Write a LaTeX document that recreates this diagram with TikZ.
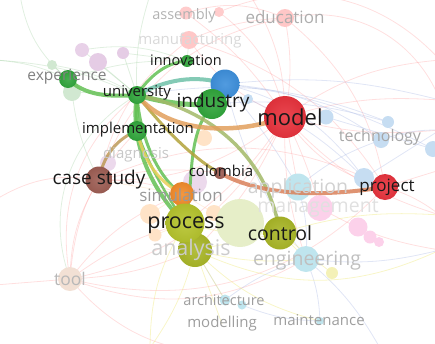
\documentclass[tikz,border=0pt]{standalone}
\usepackage{fontspec}
\setmainfont{Open Sans}
\begin{document}
\newcommand\lsz[1]{\fontsize{#1}{#1}\selectfont}
\begin{tikzpicture}[x=1pt,y=-1pt,
  dot/.style 2 args={circle,inner sep=0pt,minimum size=#2pt,fill=#1},
  sdot/.style 2 args={circle,inner sep=0pt,minimum size=#2pt,shading=radial,inner color=#1!90!white,outer color=#1!95!black},
  lbl/.style={inner sep=0pt,text=black!90},
  dim/.style={inner sep=0pt,text=black!32},
  pk/.style={draw=red!45,opacity=.28,line width=.8pt},
  bl/.style={draw=cyan!40!blue!35,opacity=.35,line width=.8pt},
  gr/.style={draw=green!50!black!35,opacity=.35,line width=.8pt},
  yl/.style={draw=yellow!70!olive!45,opacity=.45,line width=.8pt},
  pc/.style={draw=orange!35,opacity=.35,line width=.8pt},
  link/.style={line cap=round,opacity=.85}]
\definecolor{grn}{HTML}{31A63C}
\definecolor{grl}{HTML}{63C053}
\definecolor{redn}{HTML}{E8333D}
\definecolor{bluen}{HTML}{3E90DC}
\definecolor{brn}{HTML}{9E5E54}
\definecolor{org}{HTML}{F28C2C}
\definecolor{ylw}{HTML}{B6C42E}
\definecolor{olv}{HTML}{AAB728}
\definecolor{lblue}{HTML}{C6DDF2}
\definecolor{lteal}{HTML}{BFE5EE}
\definecolor{lgreen}{HTML}{E6EEC8}
\useasboundingbox (0,0) rectangle (435,343);
\clip (0,0) rectangle (435,343);
% positions of the items
\coordinate (cModel) at (285,117);
\coordinate (cInd) at (212,104);
\coordinate (cBlue) at (225,84);
\coordinate (cUni) at (137,95);
\coordinate (cInno) at (187,61);
\coordinate (cExp) at (68,79);
\coordinate (cExp2) at (72,92);
\coordinate (cImpl) at (137,131);
\coordinate (cDiag) at (108,163);
\coordinate (cCase) at (99,180);
\coordinate (cCol) at (220,173);
\coordinate (cSim) at (182,194);
\coordinate (cProc) at (185,223);
\coordinate (cAna) at (195,250);
\coordinate (cCtrl) at (280,233);
\coordinate (cProj) at (385,187);
\coordinate (cApp) at (298,187);
\coordinate (cMan) at (320,208);
\coordinate (cEng) at (306,259);
\coordinate (cTech) at (381,140);
\coordinate (cTech2) at (388,122);
\coordinate (cTechR) at (433,149);
\coordinate (cModB) at (326,117);
\coordinate (cIndB) at (248,99);
\coordinate (cProjB) at (364,178);
\coordinate (cEdu) at (285,18);
\coordinate (cAsm) at (186,13);
\coordinate (cAsm2) at (219,12);
\coordinate (cManu) at (189,40);
\coordinate (cTool) at (70,279);
\coordinate (cArch) at (225,300);
\coordinate (cArch2) at (242,305);
\coordinate (cModl) at (222,324);
\coordinate (cMaint) at (320,321);
\coordinate (cPk1) at (358,227);
\coordinate (cPk2) at (370,237);
\coordinate (cPk3) at (379,242);
\coordinate (cYg) at (332,273);
\coordinate (cPu1) at (82,50);
\coordinate (cPu2) at (98,62);
\coordinate (cPu3) at (123,53);
\coordinate (cLg) at (52,65);
\coordinate (cPe1) at (150,214);
\coordinate (cPe2) at (155,235);
\coordinate (cPe3) at (204,138);
\coordinate (cPe4) at (214,213);
\coordinate (cBig) at (240,223);
\coordinate (cLav) at (195,182);
% loose ends running off the page
\coordinate (eL1) at (-5,60);
\coordinate (eL2) at (-5,200);
\coordinate (eL3) at (-5,285);
\coordinate (eR1) at (440,60);
\coordinate (eR2) at (440,100);
\coordinate (eR3) at (440,130);
\coordinate (eR4) at (440,170);
\coordinate (eR5) at (440,215);
\coordinate (eR6) at (440,250);
\coordinate (eT1) at (20,-5);
\coordinate (eT2) at (150,-5);
\coordinate (eT3) at (250,-5);
\coordinate (eB1) at (260,348);
\coordinate (eB2) at (150,348);
\coordinate (eB3) at (380,348);
% faint background links
\draw[pk] (cModel) to[bend right=10] (cEdu);
\draw[pk] (cModel) to[bend left=15] (cManu);
\draw[pk] (cModel) to[bend right=20] (cAsm2);
\draw[pk] (cModel) to[bend left=20] (cCase);
\draw[pk] (cModel) to[bend left=25] (cTool);
\draw[pk] (cModel) to[bend left=10] (cProc);
\draw[pk] (cModel) to[bend left=10] (cAna);
\draw[pk] (cModel) to[bend right=20] (cProj);
\draw[pk] (cModel) to[bend left=5] (cMan);
\draw[pk] (cModel) to (cApp);
\draw[pk] (cModel) to[bend right=10] (cEng);
\draw[pk] (cModel) to[bend left=15] (eR1);
\draw[pk] (cModel) to[bend left=10] (eR2);
\draw[pk] (cModel) to[bend right=10] (eR3);
\draw[pk] (cModel) to[bend right=15] (eR5);
\draw[pk] (cModel) to[bend right=15] (eT3);
\draw[pk] (cEdu) to[bend right=30] (cCase);
\draw[pk] (cEdu) to[bend right=10] (cManu);
\draw[pk] (cEdu) to[bend left=40] (eR2);
\draw[pk] (cAsm) to[bend left=10] (cModel);
\draw[pk] (cAsm) to[bend left=20] (cEdu);
\draw[pk] (cAsm2) to[bend left=35] (eR1);
\draw[pk] (cManu) to[bend right=20] (cCase);
\draw[pk] (cManu) to[bend left=20] (cProj);
\draw[pk] (cCase) to[bend right=15] (cTool);
\draw[pk] (cCase) to[bend right=20] (eL2);
\draw[pk] (cTool) to (eL3);
\draw[pk] (cTool) to[bend left=10] (cProc);
\draw[pk] (cTool) to[bend left=15] (cSim);
\draw[pk] (cTool) to[bend right=10] (cAna);
\draw[pk] (cTool) to[bend right=25] (cEng);
\draw[pk] (cTool) to[bend left=20] (cImpl);
\draw[pk] (cTool) to[bend right=30] (eB1);
\draw[pk] (cTool) to[bend right=30] (cProj);
\draw[pk] (cTool) to[bend left=30] (cUni);
\draw[pk] (cProj) to (eR4);
\draw[pk] (cProj) to[bend left=10] (eR5);
\draw[pk] (cProj) to[bend right=20] (cEdu);
\draw[pk] (cCase) to[bend left=25] (cProj);
\draw[pk] (cMan) to[bend right=10] (eR6);
\draw[pk] (cCase) to[bend left=10] (cSim);
\draw[pk] (cCase) to[bend left=10] (cCol);
\draw[bl] (cBlue) to[bend left=15] (cTech);
\draw[bl] (cBlue) to[bend left=10] (cTechR);
\draw[bl] (cBlue) to[bend left=10] (eR2);
\draw[bl] (cBlue) to[bend left=20] (cProjB);
\draw[bl] (cInd) to[bend left=10] (cTech2);
\draw[bl] (cApp) to[bend left=10] (cTech);
\draw[bl] (cApp) to[bend left=10] (cEng);
\draw[bl] (cEng) to[bend right=10] (cArch);
\draw[bl] (cEng) to[bend left=10] (cMaint);
\draw[bl] (cArch) to (cAna);
\draw[bl] (cEng) to[bend right=10] (eR6);
\draw[bl] (cTech) to[bend left=10] (eR3);
\draw[bl] (cBlue) to[bend left=5] (cApp);
\draw[bl] (cModB) to (cTechR);
\draw[bl] (cProjB) to (eR3);
\draw[bl] (cMaint) to[bend left=10] (cArch2);
\draw[bl] (cBlue) to[bend right=10] (cEng);
\draw[bl] (cEng) to[bend left=10] (eB3);
\draw[bl] (cIndB) to[bend left=10] (cProjB);
\draw[bl] (cUni) to[bend left=15] (cTech2);
\draw[gr] (cUni) to (cPu1);
\draw[gr] (cUni) to (cPu2);
\draw[gr] (cUni) to (cPu3);
\draw[gr] (cUni) to[bend right=10] (cLg);
\draw[gr] (cExp) to[bend right=10] (eL1);
\draw[gr] (cExp) to (cLg);
\draw[gr] (cUni) to (cExp2);
\draw[gr] (cExp2) to[bend right=10] (cCase);
\draw[gr] (cUni) to[bend right=40] (cTool);
\draw[gr] (cInno) to (cPu3);
\draw[gr] (cInno) to (cManu);
\draw[gr] (cUni) to[bend left=10] (eT2);
\draw[gr] (cUni) to[bend right=10] (eL1);
\draw[gr] (cPu1) to[bend left=15] (cInno);
\draw[gr] (cExp) to[bend left=20] (eT1);
\draw[gr] (cExp) to[bend left=10] (cInno);
\draw[yl] (cAna) to[bend right=10] (cEng);
\draw[yl] (cAna) to (cArch);
\draw[yl] (cAna) to[bend right=15] (cMaint);
\draw[yl] (cProc) to[bend right=10] (cCtrl);
\draw[yl] (cAna) to (cCtrl);
\draw[yl] (cCtrl) to (cYg);
\draw[yl] (cAna) to (cModl);
\draw[yl] (cAna) to[bend left=10] (eB2);
\draw[yl] (cProc) to[bend right=15] (eB2);
\draw[yl] (cCtrl) to (cEng);
\draw[yl] (cCtrl) to[bend left=10] (eR5);
\draw[yl] (cAna) to[bend right=25] (eR6);
\draw[pc] (cSim) to (cPe1);
\draw[pc] (cSim) to (cCase);
\draw[pc] (cProc) to (cPe2);
\draw[pc] (cPe3) to (cInd);
\draw[pc] (cSim) to (cPe4);
% faint items
\node[dot={violet!18}{14}] (dPu1) at (cPu1) {};
\node[dot={violet!20}{18}] (dPu2) at (cPu2) {};
\node[dot={violet!20}{12}] (dPu3) at (cPu3) {};
\node[dot={green!50!black!18}{10}] (dLg) at (cLg) {};
\node[dot={green!50!black!18}{18}] (dExp2) at (cExp2) {};
\node[dot={red!20}{13}] (dAsm) at (cAsm) {};
\node[dot={red!20}{10}] (dAsm2) at (cAsm2) {};
\node[dot={red!22}{18}] (dManu) at (cManu) {};
\node[dot={red!22}{18}] (dEdu) at (cEdu) {};
\node[dot={lblue}{15}] (dModB) at (cModB) {};
\node[dot={lblue}{10}] (dIndB) at (cIndB) {};
\node[dot={lblue}{12}] (dTech2) at (cTech2) {};
\node[dot={lblue}{16}] (dTech) at (cTech) {};
\node[dot={lblue}{16}] (dTechR) at (cTechR) {};
\node[dot={lblue}{20}] (dProjB) at (cProjB) {};
\node[dot={lteal}{27}] (dApp) at (cApp) {};
\node[dot={magenta!18}{26}] (dMan) at (cMan) {};
\node[dot={magenta!18}{19}] (dPk1) at (cPk1) {};
\node[dot={magenta!18}{13}] (dPk2) at (cPk2) {};
\node[dot={magenta!18}{10}] (dPk3) at (cPk3) {};
\node[dot={lteal}{26}] (dEng) at (cEng) {};
\node[dot={yellow!60!olive!25}{12}] (dYg) at (cYg) {};
\node[dot={lteal}{11}] (dArch) at (cArch) {};
\node[dot={lteal}{9}] (dArch2) at (cArch2) {};
\node[dot={lteal}{8}] (dMaint) at (cMaint) {};
\node[dot={red!10!brown!22}{24}] (dTool) at (cTool) {};
\node[dot={orange!22}{20}] (dPe1) at (cPe1) {};
\node[dot={orange!22}{13}] (dPe2) at (cPe2) {};
\node[dot={orange!22}{16}] (dPe3) at (cPe3) {};
\node[dot={orange!22}{16}] (dPe4) at (cPe4) {};
\node[dot={lgreen}{48}] (dBig) at (cBig) {};
\node[dot={violet!15}{24}] (dLav) at (cLav) {};
\node[dot={violet!15}{16}] (dDiag) at (cDiag) {};
% strong links
\draw[link,grl,line width=3pt] (cUni) .. controls (152,72) and (170,62) .. (cInno);
\draw[link,color={rgb,255:red,111;green,193;blue,168},line width=4pt] (cUni) .. controls (165,80) and (195,74) .. (cBlue);
\draw[link,grl,line width=4pt] (cUni) .. controls (110,97) and (85,96) .. (cExp);
\draw[link,grl,line width=5pt] (cUni) .. controls (165,103) and (190,106) .. (cInd);
\draw[link,grl,line width=4pt] (cUni) -- (cImpl);
\draw[link,grl,line width=4pt] (cUni) .. controls (128,150) and (160,200) .. (cProc);
\draw[link,grl,line width=2.5pt] (cImpl) .. controls (150,170) and (170,200) .. (cProc);
\draw[link,grl,line width=3pt] (cUni) .. controls (140,140) and (160,180) .. (cSim);
\draw[link,grl,line width=3pt] (cInd) .. controls (185,140) and (195,180) .. (cProc);
\draw[link,yellow!60!green!70!black!75,line width=3.5pt] (cUni) .. controls (215,110) and (268,160) .. (cCtrl);
\draw[link,olive!70!brown!80,line width=3pt] (cUni) .. controls (165,130) and (195,160) .. (cCol);
\draw[link,brown!60!orange!75,line width=4.5pt] (cUni) .. controls (170,136) and (240,134) .. (cModel);
\draw[link,brown!75!red!80,line width=4pt] (cCol) .. controls (265,198) and (330,196) .. (cProj);
\draw[link,brown!50!yellow!75,line width=3pt] (cImpl) .. controls (145,165) and (160,182) .. (cSim);
\draw[link,brown!70!olive!80,line width=3pt] (cCase) .. controls (103,155) and (118,138) .. (cImpl);
\draw[link,olive!80,line width=3pt] (cSim) -- (cProc);
% strong items
\node[sdot={bluen}{29}] (dBlue) at (cBlue) {};
\node[sdot={grn}{30}] (dInd) at (cInd) {};
\node[sdot={redn}{42}] (dModel) at (cModel) {};
\node[sdot={grn}{18}] (dUni) at (cUni) {};
\node[sdot={grn}{12}] (dInno) at (cInno) {};
\node[sdot={grn}{18}] (dExp) at (cExp) {};
\node[sdot={grn}{20}] (dImpl) at (cImpl) {};
\node[sdot={brn}{27}] (dCase) at (cCase) {};
\node[sdot={brn}{12}] (dCol) at (cCol) {};
\node[sdot={org}{24}] (dSim) at (cSim) {};
\node[sdot={olv}{34}] (dAna) at (cAna) {};
\node[sdot={ylw}{39}] (dProc) at (cProc) {};
\node[sdot={olv}{33}] (dCtrl) at (cCtrl) {};
\node[sdot={redn}{26}] (dProj) at (cProj) {};
% labels
\node[dim,text=black!30] (tAsm) at (184,16) {\lsz{14.5}assembly};
\node[dim,text=black!32] (tEdu) at (285,17) {\lsz{17}education};
\node[dim,text=black!15] (tManu) at (190,41) {\lsz{15}manufacturing};
\node[lbl] (tInno) at (186,60) {\lsz{14.5}innovation};
\node[dim,text=black!50] (tExp) at (67,77) {\lsz{15.5}experience};
\node[lbl] (tUni) at (137,93) {\lsz{15}university};
\node[lbl] (tInd) at (213,103) {\lsz{19}industry};
\node[lbl] (tModel) at (290,117) {\lsz{22}model};
\node[dim,text=black!35] (tTech) at (380,137) {\lsz{16}technology};
\node[lbl] (tImpl) at (138,130) {\lsz{15}implementation};
\node[dim,text=black!22] (tDiag) at (136,155) {\lsz{15}diagnosis};
\node[lbl] (tCol) at (221,171) {\lsz{15}colombia};
\node[lbl] (tCase) at (99,180) {\lsz{19}case study};
\node[dim,text=black!40] (tSim) at (181,195) {\lsz{17}simulation};
\node[dim,text=black!18] (tApp) at (298,188) {\lsz{19.5}application};
\node[lbl] (tProj) at (387,187) {\lsz{17}project};
\node[dim,text=black!12] (tMan) at (318,208) {\lsz{19.5}management};
\node[lbl] (tProc) at (186,225) {\lsz{21.5}process};
\node[lbl] (tCtrl) at (280,233) {\lsz{19.5}control};
\node[dim,text=black!20] (tAna) at (191,250) {\lsz{21.5}analysis};
\node[dim,text=black!25] (tEng) at (307,261) {\lsz{19.5}engineering};
\node[dim,text=black!28] (tTool) at (70,279) {\lsz{17.5}tool};
\node[dim,text=black!38] (tArch) at (224,300) {\lsz{14.5}architecture};
\node[dim,text=black!38] (tModl) at (222,324) {\lsz{15}modelling};
\node[dim,text=black!38] (tMaint) at (319,320) {\lsz{15}maintenance};
\end{tikzpicture}
\end{document}
